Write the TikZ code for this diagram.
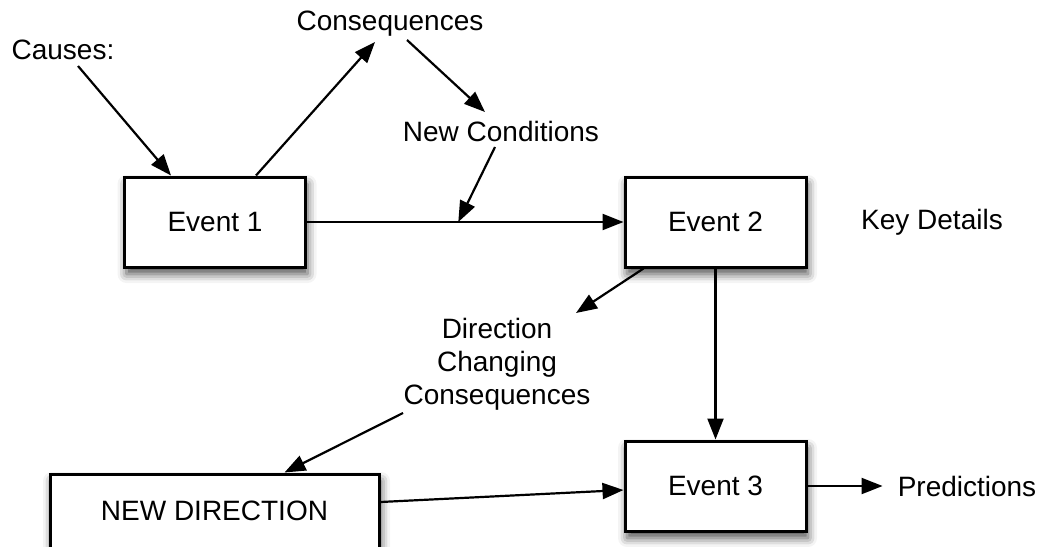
\documentclass[tikz,border=0pt]{standalone}
\usepackage{fontspec}
\setmainfont{Liberation Sans}
\usetikzlibrary{arrows.meta,shadows.blur,calc}

\tikzset{
  event/.style={draw, line width=3pt, fill=white, minimum width=181pt,
    minimum height=90pt, inner sep=0pt,
    blur shadow={shadow xshift=2pt, shadow yshift=-7pt,
      shadow blur radius=9pt, shadow opacity=70}},
  label/.style={inner sep=0pt, align=center},
  link/.style={line width=2.2pt, -{Triangle[length=21pt,width=16pt]}},
}

\begin{document}
\begin{tikzpicture}[x=1pt, y=-1pt, font=\fontsize{28}{33}\selectfont]
  \useasboundingbox (0,0) rectangle (1043,546);
  \clip (0,0) rectangle (1043,546);

  % event boxes
  \node[event] (e1) at (215,222) {Event 1};
  \node[event] (e2) at (715.5,222) {Event 2};
  \node[event] (e3) at (715.5,486) {Event 3};
  \node[event, minimum width=329pt, minimum height=74pt] (nd) at (214.5,511) {NEW DIRECTION};

  % free-standing labels
  \node[label] (causes)  at (63,50)   {Causes:};
  \node[label] (conseq)  at (390,24)  {Consequences};
  \node[label] (newcond) at (501,131) {New Conditions};
  \node[label] (keyd)    at (932,222) {Key Details};
  \node[label] (dcc)     at (497,364) {Direction\\Changing\\Consequences};
  \node[label] (pred)    at (967,486) {Predictions};

  % connectors
  \draw[link] ($(causes.center)+(15,16)$) -- ([xshift=48pt]e1.north west);
  \draw[link] ([xshift=133pt]e1.north west) -- ($(conseq.center)+(-15,18)$);
  \draw[link] ($(conseq.center)+(17,16)$) -- ($(newcond.center)+(-16,-19)$);
  \draw[link] (e1.east) -- (e2.west);
  \coordinate (join) at ($(e1.east)!0.478!(e2.west)$);
  \draw[link] ($(newcond.center)+(-6,16)$) -- (join);
  \draw[link] ([xshift=20pt]e2.south west) -- ($(dcc.center)+(79,-51)$);
  \draw[link] (e2.south) -- (e3.north);
  \draw[link] ($(dcc.center)+(-94,49)$) -- ([xshift=236pt]nd.north west);
  \draw[link] ([yshift=9pt]nd.east) -- ([yshift=-4pt]e3.west);
  \draw[link] (e3.east) -- ([xshift=-15pt]pred.west);
\end{tikzpicture}
\end{document}
